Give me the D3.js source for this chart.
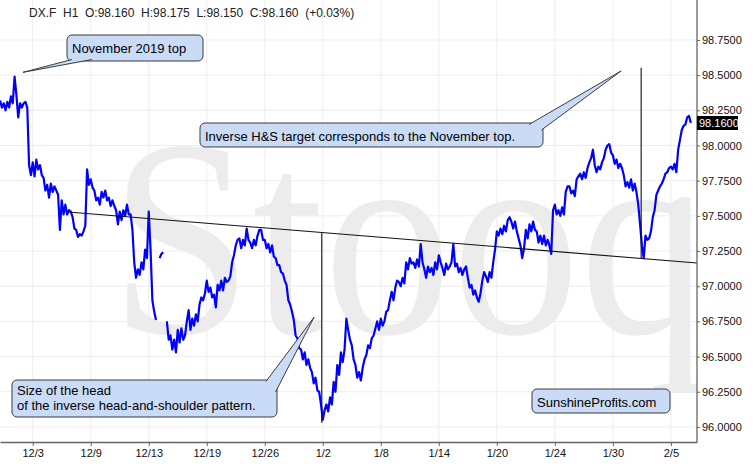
<!DOCTYPE html>
<html lang="en">
<head>
<meta charset="UTF-8">
<title>DX.F H1</title>
<script src="https://d3js.org/d3.v7.min.js"></script>
<style>
  body { margin: 0; background: #fff; }
  svg { display: block; font-family: "Liberation Sans", Arial, sans-serif; }
</style>
</head>
<body>
<script>
// DX.F hourly closes, one value every 1/8 trading day,
// starting 2.25 trading days before 12/3 (weekends are skipped on the axis)
const startDay = -2.25;
const stepDay = 0.125;
const prices = [
  98.32, 98.27, 98.30, 98.25, 98.31, 98.27, 98.35, 98.30, 98.49, 98.36,
  98.20, 98.30, 98.27, 98.30, 98.31, 98.27, 97.86, 97.79,
  97.88, 97.78, 97.90, 97.83, 97.86, 97.79, 97.77, 97.68, 97.72, 97.63,
  97.73, 97.67, 97.71, 97.68, 97.65, 97.40, 97.61, 97.51, 97.58, 97.51,
  97.54, 97.53, 97.49, 97.41, 97.40, 97.35, 97.37, 97.36, 97.39, 97.43,
  97.83, 97.72, 97.76, 97.70, 97.68, 97.61, 97.63, 97.58, 97.67, 97.63,
  97.68, 97.61, 97.63, 97.57, 97.61, 97.57, 97.54, 97.44, 97.53, 97.47,
  97.54, 97.50, 97.58, 97.51, 97.51, 97.40, 97.17, 97.06, 97.12, 97.08,
  97.17, 97.12, 97.26, 97.20, 97.53, 97.26, 96.90, 96.82, 96.76, null,
  97.20, 97.23, 97.24, null, 96.75, 96.62, 96.65, 96.55, 96.62, 96.53,
  96.69, 96.60, 96.70, 96.62, 96.65, 96.75, 96.83, 96.69, 96.77, 96.72,
  96.80, 96.75, 96.87, 96.92, 96.90, 96.95, 97.04, 96.96, 96.99, 96.92,
  96.94, 96.85, 97.01, 96.97, 97.04, 96.97, 97.06, 97.03, 97.04, 97.07,
  97.17, 97.22, 97.29, 97.33, 97.34, 97.27, 97.33, 97.29, 97.41, 97.33,
  97.31, 97.27, 97.33, 97.29, 97.36, 97.40, 97.40, 97.33, 97.33, 97.27,
  97.30, 97.24, 97.29, 97.21, 97.20, 97.15, 97.15, 97.10, 97.09, 97.04,
  97.01, 96.90, 96.87, 96.82, 96.76, 96.65, 96.63, 96.56, 96.55, 96.48,
  96.53, 96.44, 96.48, 96.42, 96.39, 96.31, 96.35, 96.26, 96.25, 96.16,
  96.05, 96.12, 96.16, 96.11, 96.21, 96.16, 96.32, 96.25, 96.44, 96.37,
  96.53, 96.46, 96.55, 96.77, 96.69, 96.62, 96.58, 96.48, 96.44, 96.35,
  96.39, 96.33, 96.42, 96.48, 96.51, 96.58, 96.56, 96.63, 96.65, 96.70,
  96.75, 96.69, 96.77, 96.72, 96.75, 96.82, 96.83, 96.90, 96.96, 96.90,
  96.99, 97.04, 97.03, 97.00, 97.06, 97.02, 97.17, 97.12, 97.20, 97.16,
  97.17, 97.13, 97.19, 97.14, 97.30, 97.17, 97.12, 97.06, 97.14, 97.10,
  97.13, 97.08, 97.17, 97.12, 97.22, 97.17, 97.13, 97.08, 97.16, 97.12,
  97.14, 97.17, 97.30, 97.14, 97.16, 97.10, 97.13, 97.08, 97.12, 97.14,
  97.06, 96.99, 97.01, 96.94, 96.97, 96.92, 96.89, 96.95, 97.04, 97.10,
  97.07, 97.03, 97.10, 97.06, 97.17, 97.26, 97.39, 97.36, 97.41, 97.37,
  97.43, 97.39, 97.47, 97.49, 97.46, 97.41, 97.46, 97.39, 97.34, 97.29,
  97.20, 97.27, 97.40, 97.34, 97.44, 97.39, 97.46, 97.40, 97.39, 97.31,
  97.36, 97.30, 97.36, 97.29, 97.33, 97.29, 97.23, 97.54, 97.58, 97.51,
  97.54, 97.50, 97.56, 97.51, 97.67, 97.71, 97.71, 97.66, 97.68, 97.64,
  97.76, 97.78, 97.80, 97.76, 97.81, 97.77, 97.84, 97.88, 97.91, 97.97,
  97.86, 97.81, 97.85, 97.83, 97.88, 97.91, 97.97, 98.00, 98.01, 97.95,
  97.93, 97.87, 97.90, 97.84, 97.87, 97.84, 97.79, 97.71, 97.74, 97.70,
  97.76, 97.68, 97.73, 97.67, 97.58, 97.44, 97.29, 97.20, 97.36, 97.33,
  97.34, 97.39, 97.49, 97.54, 97.65, 97.68, 97.71, 97.73, 97.76, 97.80,
  97.81, 97.84, 97.85, 97.83, 97.87, 97.81, 97.97, 98.04, 98.11, 98.14,
  98.15, 98.20, 98.21, 98.16
];

const tickDays = [0, 4, 8, 12, 16, 20, 24, 28, 32, 36, 40, 44];
const tickLabels = ["12/3", "12/9", "12/13", "12/19", "12/26", "1/2",
                    "1/8", "1/14", "1/20", "1/24", "1/30", "2/5"];
const priceTicks = [96, 96.25, 96.5, 96.75, 97, 97.25, 97.5, 97.75, 98, 98.25, 98.5, 98.75];

const neckline = [[2.43, 97.528], [45.8, 97.165]];
const headLine = [[19.93, 97.379], [19.93, 96.028]];
const targetLine = [[41.95, 98.552], [41.95, 97.201]];

const header = "DX.F  H1  O:98.160  H:98.175  L:98.150  C:98.160  (+0.03%)";
const lastPrice = 98.16;

const width = 756, height = 472;
const plotW = 697, plotH = 442;
const boxFill = "#c9dbf7";
const boxLine = "#3c3c3c";

const svg = d3.select("body").append("svg")
    .attr("width", width)
    .attr("height", height);

const x = d3.scaleLinear().domain([-2.255, 45.8]).range([0, plotW]);
const y = d3.scaleLinear().domain([95.893, 99.034]).range([plotH, 0]);

svg.append("clipPath").attr("id", "plot")
  .append("rect").attr("width", plotW).attr("height", plotH);

// grid
svg.append("g").selectAll("line.h")
  .data(priceTicks).enter().append("line")
    .attr("x1", 0).attr("x2", plotW)
    .attr("y1", d => y(d)).attr("y2", d => y(d))
    .attr("stroke", "#ededed");
svg.append("g").selectAll("line.v")
  .data(tickDays).enter().append("line")
    .attr("x1", d => x(d)).attr("x2", d => x(d))
    .attr("y1", 0).attr("y2", plotH)
    .attr("stroke", "#ededed");

// watermark
svg.append("g").attr("clip-path", "url(#plot)")
  .append("text")
    .attr("x", 110).attr("y", 333)
    .attr("font-family", "Liberation Serif, serif")
    .attr("font-size", 282)
    .attr("textLength", 598)
    .attr("lengthAdjust", "spacingAndGlyphs")
    .attr("fill", "#ececec")
    .text("Stooq");

const plot = svg.append("g").attr("clip-path", "url(#plot)");

const series = prices.map((v, i) => [startDay + i * stepDay, v]);
const line = d3.line()
    .defined(d => d[1] !== null)
    .x(d => x(d[0]))
    .y(d => y(d[1]));

plot.append("path")
    .datum(series)
    .attr("fill", "none")
    .attr("stroke", "#0000ff")
    .attr("stroke-width", 2.2)
    .attr("stroke-linejoin", "round")
    .attr("d", line);

const plain = d3.line().x(d => x(d[0])).y(d => y(d[1]));
[neckline, headLine, targetLine].forEach(seg => {
  plot.append("path")
      .attr("d", plain(seg))
      .attr("stroke", "#111")
      .attr("stroke-width", 1.1)
      .attr("fill", "none");
});

// axes
const yAxis = svg.append("g")
    .attr("transform", `translate(${plotW},0)`)
    .call(d3.axisRight(y).tickValues(priceTicks).tickFormat(d3.format(".4f"))
      .tickSize(3).tickSizeOuter(0).tickPadding(2));
const xAxis = svg.append("g")
    .attr("transform", `translate(0,${plotH})`)
    .call(d3.axisBottom(x).tickValues(tickDays).tickFormat((d, i) => tickLabels[i])
      .tickSize(4).tickSizeOuter(0));
[yAxis, xAxis].forEach(a => {
  a.select(".domain").attr("stroke", "#666").attr("stroke-width", 1.3);
  a.selectAll(".tick line").attr("stroke", "#666");
  a.selectAll("text").attr("font-size", 11).attr("fill", "#111")
    .attr("font-family", "Liberation Sans, Arial, sans-serif");
});
yAxis.select(".domain").attr("d", `M0,0V${plotH}`);

// last price tag
const tag = svg.append("g").attr("transform", `translate(${plotW},${y(lastPrice)})`);
tag.append("rect").attr("x", 0).attr("y", -7).attr("width", 41).attr("height", 14).attr("fill", "#000");
tag.append("text").attr("x", 2).attr("y", 4).attr("font-size", 11).attr("fill", "#fff")
    .text(d3.format(".4f")(lastPrice));

// header
svg.append("text")
    .attr("x", 29).attr("y", 17)
    .attr("font-size", 12).attr("fill", "#222")
    .attr("xml:space", "preserve")
    .style("white-space", "pre")
    .text(header);

// callouts
function callout(box, lines, tip, base) {
  const g = svg.append("g");
  g.append("rect")
      .attr("x", box[0]).attr("y", box[1])
      .attr("width", box[2]).attr("height", box[3])
      .attr("rx", 5)
      .attr("fill", boxFill).attr("stroke", boxLine);
  if (tip) {
    const t = [x(tip[0]), y(tip[1])];
    g.append("path")
        .attr("d", `M${base[0]}L${t}L${base[1]}Z`)
        .attr("fill", boxFill);
    g.append("path")
        .attr("d", `M${base[0]}L${t}L${base[1]}`)
        .attr("fill", "none").attr("stroke", boxLine);
  }
  lines.forEach((s, i) => {
    g.append("text")
        .attr("x", box[0] + 5)
        .attr("y", box[1] + (lines.length > 1 ? 15 : 17.5) + i * 15)
        .attr("font-size", 13).attr("fill", "#000")
        .text(s);
  });
}

callout([67, 35, 136, 26], ["November 2019 top"], [-0.67, 98.52], [[72, 59.5], [92, 59.5]]);
callout([200, 123, 343, 24], ["Inverse H&S target corresponds to the November top."],
        [40.57, 98.53], [[529, 124.5], [541.5, 130]]);
callout([12, 380, 265, 37], ["Size of the head", "of the inverse head-and-shoulder pattern."],
        [19.4, 96.78], [[266, 381.5], [275.5, 392]]);
callout([532, 389, 138, 24], ["SunshineProfits.com"]);
</script>
</body>
</html>
